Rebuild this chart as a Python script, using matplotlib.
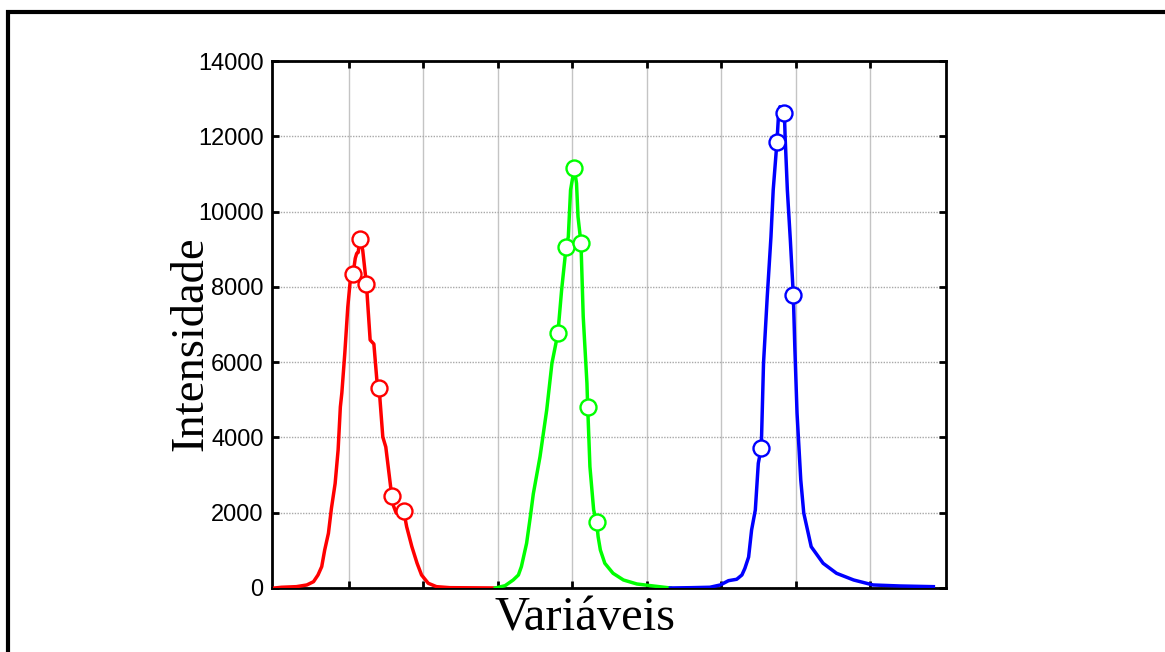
import matplotlib
matplotlib.use("Agg")
import matplotlib.pyplot as plt
from matplotlib.patches import Rectangle

# ---------- data ----------
red_x = [0.01, 0.10, 0.30, 0.44, 0.53, 0.59, 0.64, 0.68, 0.73, 0.77, 0.82, 0.86,
         0.89, 0.91, 0.95, 0.99, 1.03, 1.06, 1.09, 1.11, 1.13, 1.15, 1.19, 1.24,
         1.29, 1.34, 1.38, 1.41, 1.46, 1.50, 1.58, 1.60, 1.64, 1.74, 1.78, 1.85,
         1.92, 1.98, 2.07, 2.18, 2.36, 2.97]
red_y = [0, 19, 35, 80, 167, 345, 567, 1009, 1453, 2112, 2776, 3666,
         4808, 5180, 6243, 7465, 8315, 8333, 8757, 8890, 8916, 9271, 8979, 8076,
         6588, 6482, 5526, 5321, 4011, 3746, 2444, 2200, 1990, 2053, 1628, 1097,
         656, 345, 125, 35, 8, 0]
red_mx = [1.06, 1.15, 1.24, 1.41, 1.58, 1.74]
red_my = [8333, 9271, 8076, 5321, 2444, 2053]

green_x = [2.97, 3.10, 3.21, 3.28, 3.32, 3.39, 3.44, 3.48, 3.57, 3.66, 3.73, 3.81,
           3.86, 3.92, 3.95, 3.98, 4.03, 4.06, 4.08, 4.12, 4.15, 4.20, 4.21, 4.24,
           4.29, 4.33, 4.35, 4.38, 4.44, 4.55, 4.69, 4.87, 5.09, 5.32]
green_y = [0, 60, 212, 345, 567, 1187, 1894, 2500, 3488, 4729, 5969, 6766,
           7916, 9051, 9332, 10573, 11149, 10751, 9864, 9157, 7207, 5437, 4817, 3222,
           2072, 1761, 1363, 1009, 656, 391, 212, 106, 53, 0]
green_mx = [3.81, 3.92, 4.03, 4.12, 4.21, 4.33]
green_my = [6766, 9051, 11149, 9157, 4817, 1761]

blue_x = [5.32, 5.60, 5.85, 5.99, 6.10, 6.21, 6.28, 6.32, 6.37, 6.41, 6.46, 6.50,
          6.54, 6.57, 6.62, 6.67, 6.70, 6.75, 6.77, 6.79, 6.85, 6.86, 6.89, 6.93,
          6.97, 6.99, 7.02, 7.07, 7.11, 7.21, 7.37, 7.55, 7.78, 8.04, 8.40, 8.85]
blue_y = [0, 8, 19, 80, 194, 231, 345, 522, 822, 1541, 2072, 3313,
          3727, 5969, 7738, 9332, 10573, 11840, 12520, 12786, 12610, 11989, 10573, 9245,
          7784, 6410, 4641, 2869, 1992, 1097, 656, 390, 212, 80, 53, 35]
blue_mx = [6.54, 6.75, 6.85, 6.97]
blue_my = [3727, 11840, 12610, 7784]

y_ticks = [0, 2000, 4000, 6000, 8000, 10000, 12000, 14000]
x_grid = [1, 2, 3, 4, 5, 6, 7, 8]

# ---------- figure ----------
fig = plt.figure(figsize=(11.65, 6.52), dpi=100)
ax = fig.add_axes([0.2335, 0.0982, 0.5783, 0.8082])

for xs, ys, mx, my, c in [(red_x, red_y, red_mx, red_my, "#ff0000"),
                          (green_x, green_y, green_mx, green_my, "#00ff00"),
                          (blue_x, blue_y, blue_mx, blue_my, "#0000ff")]:
    ax.plot(xs, ys, color=c, lw=2.5, zorder=3)
    ax.plot(mx, my, ls="none", marker="o", ms=11.5, mfc="white", mec=c,
            mew=1.7, zorder=4)

ax.set_xlim(-0.027, 9.016)
ax.set_ylim(0, 14000)
ax.set_xticks(x_grid)
ax.set_xticklabels([])
ax.set_yticks(y_ticks)
ax.set_yticklabels([str(v) for v in y_ticks], family="Liberation Sans", fontsize=17)

ax.tick_params(direction="in", length=5, width=2, top=True, right=True, pad=6)
ax.grid(axis="x", color="#c4c4c4", lw=1.0, ls="-", zorder=0)
ax.grid(axis="y", color="#a8a8a8", lw=1.0, ls=(0, (1, 1)), zorder=0)
for s in ax.spines.values():
    s.set_linewidth(2)

ax.set_ylabel("Intensidade", family="Liberation Serif", fontsize=33.5, va="center")
ax.yaxis.set_label_coords(-0.12, 0.464)
ax.set_xlabel("Variáveis", family="Liberation Serif", fontsize=35, va="center")
ax.xaxis.set_label_coords(0.465, -0.058)

# thick outer frame (cropped at right and bottom)
fig.patches.append(Rectangle((7.5 / 1165, -0.1), 1.2, 1.1 - 12 / 652,
                             transform=fig.transFigure, fill=False,
                             lw=3, ec="black"))

fig.savefig("out.png", dpi=100)
